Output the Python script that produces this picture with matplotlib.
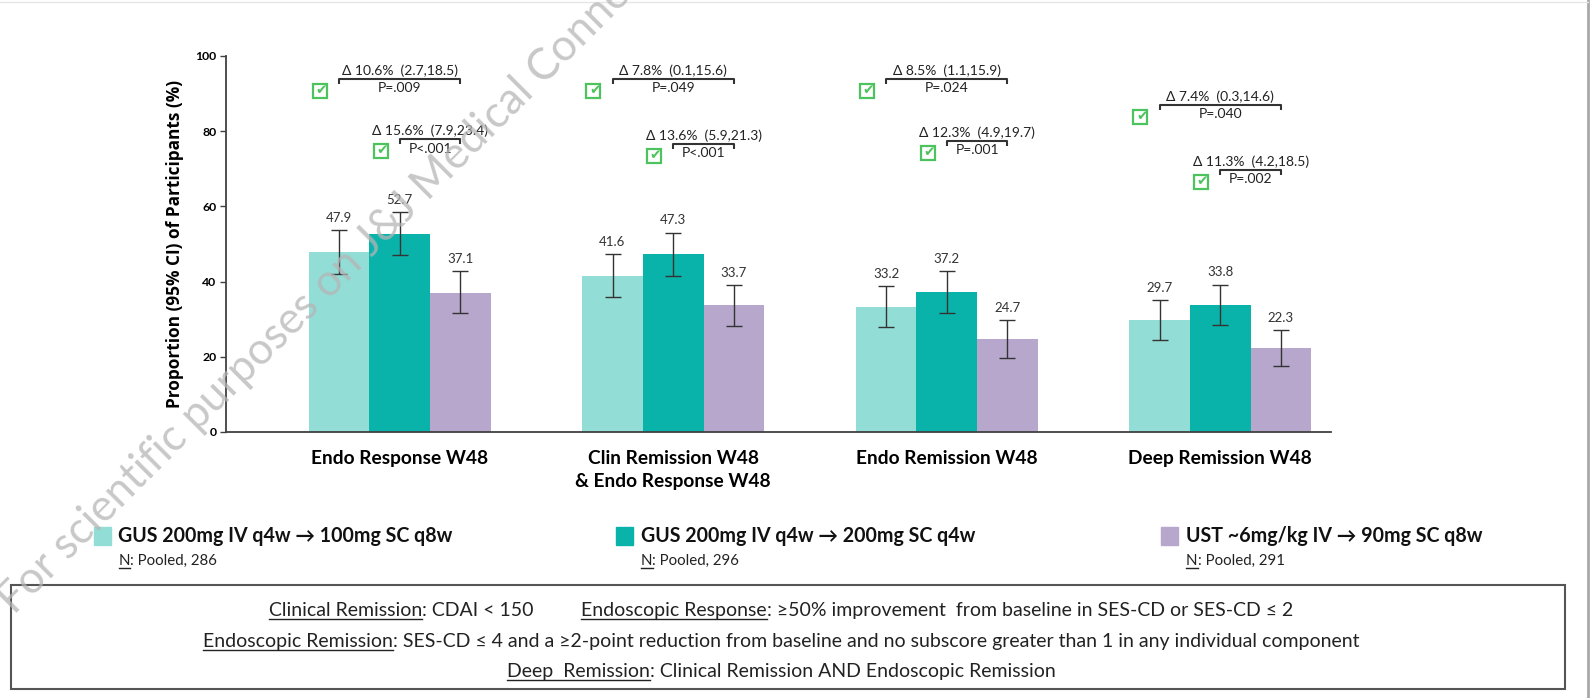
import numpy as np
import matplotlib
matplotlib.use("Agg")
import matplotlib.pyplot as plt
from matplotlib.patches import Rectangle
from matplotlib.lines import Line2D

FONT = ["Lato", "DejaVu Sans"]
plt.rcParams["font.family"] = FONT

# --- data ---
categories = ["Endo Response W48", "Clin Remission W48\n& Endo Response W48",
              "Endo Remission W48", "Deep Remission W48"]
arms = ["GUS 200mg IV q4w \u2192 100mg SC q8w",
        "GUS 200mg IV q4w \u2192 200mg SC q4w",
        "UST ~6mg/kg IV \u2192 90mg SC q8w"]
n_pooled = [286, 296, 291]

gus100 = [47.9, 41.6, 33.2, 29.7]
gus200 = [52.7, 47.3, 37.2, 33.8]
ust = [37.1, 33.7, 24.7, 22.3]

gus100_lo = [42.1, 35.9, 27.8, 24.4]
gus100_hi = [53.7, 47.3, 38.7, 35.0]
gus200_lo = [47.0, 41.6, 31.7, 28.4]
gus200_hi = [58.4, 53.0, 42.7, 39.2]
ust_lo = [31.6, 28.2, 19.8, 17.5]
ust_hi = [42.7, 39.1, 29.7, 27.1]

# GUS 100mg vs UST
d100 = [10.6, 7.8, 8.5, 7.4]
d100_ci = [(2.7, 18.5), (0.1, 15.6), (1.1, 15.9), (0.3, 14.6)]
p100 = ["P=.009", "P=.049", "P=.024", "P=.040"]
# GUS 200mg vs UST
d200 = [15.6, 13.6, 12.3, 11.3]
d200_ci = [(7.9, 23.4), (5.9, 21.3), (4.9, 19.7), (4.2, 18.5)]
p200 = ["P<.001", "P<.001", "P=.001", "P=.002"]

# bracket heights
top_y = [93.9, 93.9, 93.9, 87.0]
low_y = [77.9, 76.6, 77.4, 69.7]

colors = ["#93ddd7", "#0ab3aa", "#b8a7cc"]
check_green = "#4cc35c"
W, H = 1593, 698

fig = plt.figure(figsize=(W / 100, H / 100), dpi=100)
ax = fig.add_axes([225.5 / W, 1 - 432 / H, (1331 - 225.5) / W, (432 - 56) / H])

x = np.arange(len(categories))
bw = 0.222
series = [(gus100, gus100_lo, gus100_hi), (gus200, gus200_lo, gus200_hi), (ust, ust_lo, ust_hi)]
for i, (vals, lo, hi) in enumerate(series):
    xs = x + (i - 1) * bw
    vals = np.array(vals)
    err = [vals - np.array(lo), np.array(hi) - vals]
    ax.bar(xs, vals, bw, color=colors[i], zorder=2)
    ax.errorbar(xs, vals, yerr=err, fmt="none", ecolor="#333333", elinewidth=1,
                capsize=5.5, capthick=1, zorder=3)
    for xx, v, h in zip(xs, vals, hi):
        ax.annotate(f"{v:.1f}", (xx, h), xytext=(0, 4.5), textcoords="offset points",
                    ha="center", va="bottom", fontsize=9.5, color="#333333")


def bracket(x1, x2, y, delta, ci, ptxt):
    ax.plot([x1, x1, x2, x2], [y - 1.4, y, y, y - 1.4], color="#333333", lw=1.5,
            solid_capstyle="butt", zorder=4)
    xm = (x1 + x2) / 2
    ax.annotate(f"\u0394 {delta}%  ({ci[0]},{ci[1]})", (xm, y), xytext=(0, 1.5),
                textcoords="offset points", ha="center", va="bottom", fontsize=10,
                color="#222222")
    ax.annotate(ptxt, (xm, y), xytext=(0, -2.5), textcoords="offset points",
                ha="center", va="top", fontsize=10, color="#222222")
    # check box
    cx, cy = x1 - 0.07, y - 3.2
    ax.plot(cx, cy, marker="s", ms=10.5, mfc="white", mec=check_green, mew=1.6,
            zorder=5, clip_on=False)
    ax.annotate("\u2714", (cx, cy), xytext=(1, 0.5), textcoords="offset points",
                ha="center", va="center", fontsize=10, color=check_green, zorder=6,
                family=["DejaVu Sans"])


for g in range(len(categories)):
    bracket(x[g] - bw, x[g] + bw, top_y[g], d100[g], d100_ci[g], p100[g])
    bracket(x[g], x[g] + bw, low_y[g], d200[g], d200_ci[g], p200[g])

ax.set_xlim(-0.637, 3.405)
ax.set_ylim(0, 100)
ax.set_yticks([0, 20, 40, 60, 80, 100])
ax.set_xticks(x)
ax.set_xticklabels(categories, fontsize=13.8, fontweight="bold", linespacing=1.45)
ax.tick_params(axis="x", length=0, pad=13)
ax.tick_params(axis="y", length=4.5, width=1, color="#404040", pad=2)
for lab in ax.get_yticklabels():
    lab.set_fontweight("bold")
    lab.set_fontsize(8.8)
ax.spines[["top", "right"]].set_visible(False)
for s in ["left", "bottom"]:
    ax.spines[s].set_color("#404040")
    ax.spines[s].set_linewidth(1.3)
ax.set_ylabel("Proportion (95% CI) of Participants (%)", fontsize=12.4,
              fontweight="bold", labelpad=8, family=["Open Sans", "DejaVu Sans"])

renderer = fig.canvas.get_renderer()


def rich_text(y_px, parts, size, cx=None, left=None, weight="normal"):
    items = []
    for s, ul, gap in parts:
        t = fig.text(0, 1 - y_px / H, s, fontsize=size, va="baseline", ha="left",
                     color="#222222", fontweight=weight)
        w = t.get_window_extent(renderer).width
        items.append((t, ul, w, gap))
    total = sum(w + g for _, _, w, g in items) - items[-1][3]
    xp = left if left is not None else cx - total / 2
    for t, ul, w, g in items:
        t.set_x(xp / W)
        if ul:
            fig.add_artist(Line2D([xp / W, (xp + w) / W], [1 - (y_px + 2.5) / H] * 2,
                                  lw=1, color="#222222"))
        xp += w + g


# legend
sq_x = [93.5, 616, 1161]
for i in range(3):
    fig.add_artist(Rectangle((sq_x[i] / W, 1 - 545 / H), 17 / W, 18 / H,
                             transform=fig.transFigure, color=colors[i]))
    fig.text((sq_x[i] + 25) / W, 1 - 536 / H, arms[i], fontsize=14.1, fontweight="bold",
             va="center", ha="left", color="#111111")
    rich_text(565, [("N", True, 0), (f": Pooled, {n_pooled[i]}", False, 0)], 10.8,
              left=sq_x[i] + 25)

# definitions box
fig.add_artist(Rectangle((11 / W, 1 - 689 / H), (1565 - 11) / W, (689 - 585) / H,
                         transform=fig.transFigure, fill=False, edgecolor="#555555", lw=1.5))
rich_text(616, [("Clinical Remission", True, 0), (": CDAI < 150", False, 48),
                ("Endoscopic Response", True, 0),
                (": \u226550% improvement  from baseline in SES-CD or SES-CD \u2264 2", False, 0)],
          14, cx=781)
rich_text(647, [("Endoscopic Remission", True, 0),
                (": SES-CD \u2264 4 and a \u22652-point reduction from baseline and no subscore "
                 "greater than 1 in any individual component", False, 0)], 14, cx=781)
rich_text(677, [("Deep  Remission", True, 0),
                (": Clinical Remission AND Endoscopic Remission", False, 0)], 14, cx=781)

# page edge
fig.add_artist(Line2D([1588 / W] * 2, [0, 1], lw=2, color="#a8a8a8"))
fig.add_artist(Line2D([0, 1588 / W], [1 - 2 / H] * 2, lw=1, color="#e6e6e6"))

# watermark, placed so that "Medical" starts at a fixed spot
wm = "For scientific purposes on J&J Medical Connect"
wm_fs, wm_rot = 31.5, 45
probe = fig.text(0, 0, "For scientific purposes on J&J M", fontsize=wm_fs)
probe_m = fig.text(0, 0, "M", fontsize=wm_fs)
pre = probe.get_window_extent(renderer).width - probe_m.get_window_extent(renderer).width
probe.remove()
probe_m.remove()
mx, my = 428, H - 202
ang = np.deg2rad(wm_rot)
fig.text((mx - pre * np.cos(ang)) / W, (my - pre * np.sin(ang)) / H, wm,
         rotation=wm_rot, rotation_mode="anchor", ha="left", va="baseline",
         fontsize=wm_fs, color="#b5b5b5", alpha=0.75, zorder=10)

fig.savefig("out.png", dpi=100)
